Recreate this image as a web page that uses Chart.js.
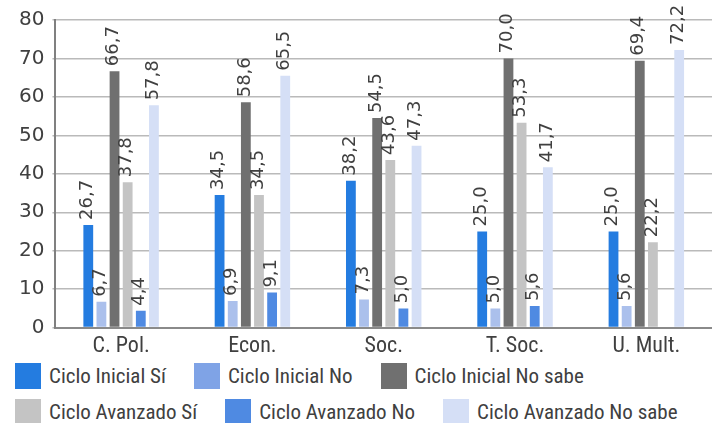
<!DOCTYPE html>
<html>
<head>
<meta charset="utf-8">
<script src="https://cdn.jsdelivr.net/npm/chart.js@4.4.0/dist/chart.umd.min.js"></script>
<style>
  html, body { margin: 0; padding: 0; background: #fff; overflow: hidden; }
  #wrap { position: relative; width: 712px; height: 363px; }
  #legend {
    display: flex; flex-wrap: wrap; column-gap: 28px; row-gap: 10px;
    padding-left: 15px; width: 697px;
    font-family: "Roboto Condensed", sans-serif; font-size: 21px; color: #404040;
  }
  #legend .item { display: flex; align-items: center; height: 26px; }
  #legend .box { width: 26px; height: 26px; margin-right: 8px; }
</style>
</head>
<body>
<div id="wrap"><canvas id="chart"></canvas></div>
<div id="legend"></div>
<script>
const categories = ['C. Pol.', 'Econ.', 'Soc.', 'T. Soc.', 'U. Mult.'];
const seriesNames = ['Ciclo Inicial Sí', 'Ciclo Inicial No', 'Ciclo Inicial No sabe',
    'Ciclo Avanzado Sí', 'Ciclo Avanzado No', 'Ciclo Avanzado No sabe'];
const inicialSi = [26.7, 34.5, 38.2, 25.0, 25.0];
const inicialNo = [6.7, 6.9, 7.3, 5.0, 5.6];
const inicialNoSabe = [66.7, 58.6, 54.5, 70.0, 69.4];
const avanzadoSi = [37.8, 34.5, 43.6, 53.3, 22.2];
const avanzadoNo = [4.4, 9.1, 5.0, 5.6, null];
const avanzadoNoSabe = [57.8, 65.5, 47.3, 41.7, 72.2];
const yTicks = [0, 10, 20, 30, 40, 50, 60, 70, 80];

const colors = ['#247ce0', '#abc0ec', '#707070', '#c4c4c4', '#4f8ae2', '#d5dff6'];
const legendColors = ['#247ce0', '#7fa3e6', '#707070', '#c4c4c4', '#4f8ae2', '#d5dff6'];
const numFont = '"DejaVu Sans", sans-serif';
const textFont = '"Roboto Condensed", sans-serif';

// rotated value labels above every bar
const barLabels = {
    id: 'barLabels',
    afterDatasetsDraw(chart) {
        const ctx = chart.ctx;
        ctx.save();
        ctx.fillStyle = '#404040';
        ctx.font = '18px ' + numFont;
        ctx.textAlign = 'left';
        ctx.textBaseline = 'middle';
        chart.data.datasets.forEach((ds, i) => {
            chart.getDatasetMeta(i).data.forEach((bar, j) => {
                const v = ds.data[j];
                if (v === null || v === undefined) return;
                ctx.save();
                ctx.translate(bar.x - 1, bar.y - 5);
                ctx.rotate(-Math.PI / 2);
                ctx.fillText(v.toFixed(1).replace('.', ','), 0, 0);
                ctx.restore();
            });
        });
        ctx.restore();
    }
};

const allSeries = [inicialSi, inicialNo, inicialNoSabe, avanzadoSi, avanzadoNo, avanzadoNoSabe];

// legend built as html
const legendEl = document.getElementById('legend');
seriesNames.forEach((name, i) => {
    const item = document.createElement('div');
    item.className = 'item';
    const box = document.createElement('span');
    box.className = 'box';
    box.style.background = legendColors[i];
    const txt = document.createElement('span');
    txt.textContent = name;
    item.appendChild(box);
    item.appendChild(txt);
    legendEl.appendChild(item);
});

new Chart(document.getElementById('chart'), {
    type: 'bar',
    data: {
        labels: categories,
        datasets: allSeries.map((vals, i) => ({
            label: seriesNames[i],
            data: vals,
            backgroundColor: colors[i],
            borderWidth: 0,
            categoryPercentage: 0.6,
            barPercentage: 0.746
        }))
    },
    options: {
        responsive: true,
        maintainAspectRatio: false,
        animation: false,
        layout: { padding: { top: 7, right: -14, left: 11, bottom: -3 } },
        plugins: {
            tooltip: { enabled: false },
            legend: { display: false }
        },
        scales: {
            x: {
                grid: { display: false, drawTicks: false },
                border: { color: '#8a8a8a', width: 2 },
                ticks: { color: '#404040', font: { family: textFont, size: 22 }, padding: 6 }
            },
            y: {
                min: 0,
                max: 80,
                afterBuildTicks(axis) { axis.ticks = yTicks.map(v => ({ value: v })); },
                grid: { color: '#bababa', lineWidth: 1.5, tickLength: 3 },
                border: { color: '#808080', width: 2 },
                ticks: { color: '#404040', font: { family: numFont, size: 20 }, padding: 8 }
            }
        }
    },
    plugins: [barLabels]
});
</script>
</body>
</html>
